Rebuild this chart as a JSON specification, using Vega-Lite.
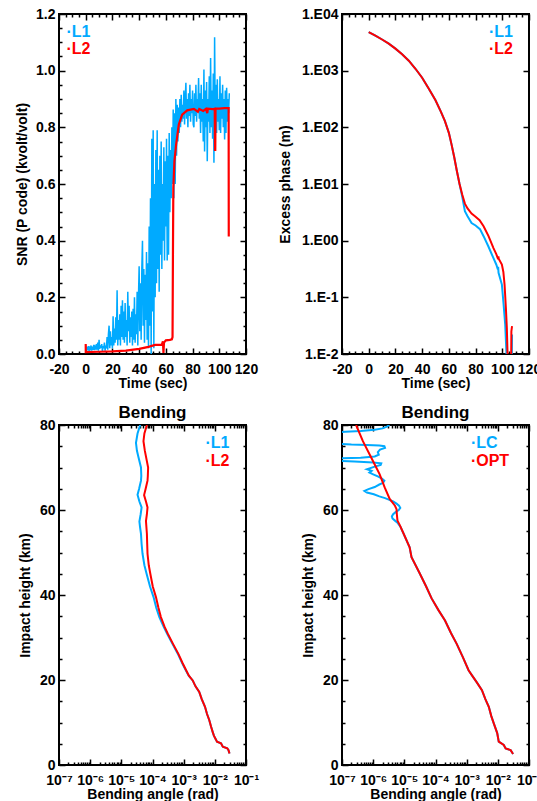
{
"$schema": "https://vega.github.io/schema/vega-lite/v6.json",
"autosize": {"type": "pad"},
"padding": {"left": 14, "top": 6, "right": 0, "bottom": 0},
"background": "white",
"datasets": {
"snr1": [
{"t":0,"v":0.03},{"t":0.5,"v":0.012},{"t":1,"v":0.025},{"t":1.5,"v":0.015},{"t":2,"v":0.028},{"t":2.5,"v":0.01},{"t":3,"v":0.022},{"t":3.5,"v":0.018},{"t":4,"v":0.03},{"t":4.5,"v":0.012},{"t":5,"v":0.026},{"t":5.5,"v":0.015},{"t":6,"v":0.032},{"t":6.5,"v":0.014},{"t":7,"v":0.025},{"t":7.5,"v":0.02},{"t":8,"v":0.035},{"t":8.5,"v":0.015},{"t":9,"v":0.04},{"t":9.5,"v":0.012},{"t":10,"v":0.05},{"t":10.5,"v":0.018},{"t":11,"v":0.03},{"t":11.5,"v":0.022},{"t":12,"v":0.035},{"t":12.5,"v":0.01},{"t":13,"v":0.028},{"t":13.5,"v":0.02},{"t":14,"v":0.04},{"t":14.5,"v":0.012},{"t":15,"v":0.03},
{"t":15.5,"v":0.02},{"t":16,"v":0.06},{"t":16.5,"v":0.015},{"t":17,"v":0.07},{"t":17.5,"v":0.1},{"t":18,"v":0.02},{"t":18.5,"v":0.08},{"t":19,"v":0.03},{"t":19.5,"v":0.06},{"t":20,"v":0.02},
{"t":20.5,"v":0.133},{"t":21,"v":0.03},{"t":21.5,"v":0.09},{"t":22,"v":0.04},{"t":22.5,"v":0.13},{"t":23,"v":0.05},{"t":23.5,"v":0.225},{"t":24,"v":0.03},{"t":24.5,"v":0.12},{"t":25,"v":0.05},
{"t":25.5,"v":0.14},{"t":26,"v":0.03},{"t":26.5,"v":0.17},{"t":27,"v":0.06},{"t":27.5,"v":0.19},{"t":28,"v":0.05},{"t":28.5,"v":0.15},{"t":29,"v":0.04},{"t":29.5,"v":0.18},{"t":30,"v":0.06},{"t":30.5,"v":0.12},{"t":31,"v":0.03},{"t":31.5,"v":0.22},{"t":32,"v":0.08},{"t":32.5,"v":0.17},{"t":33,"v":0.04},{"t":33.5,"v":0.13},{"t":34,"v":0.06},{"t":34.5,"v":0.15},{"t":35,"v":0.03},
{"t":35.5,"v":0.16},{"t":36,"v":0.05},{"t":36.5,"v":0.2},{"t":37,"v":0.04},{"t":37.5,"v":0.14},{"t":38,"v":0.07},{"t":38.5,"v":0.22},{"t":39,"v":0.03},{"t":39.5,"v":0.2},{"t":40,"v":0.31},
{"t":40.5,"v":0.08},{"t":41,"v":0.25},{"t":41.5,"v":0.05},{"t":42,"v":0.3},{"t":42.5,"v":0.4},{"t":43,"v":0.1},{"t":43.5,"v":0.3},{"t":44,"v":0.04},{"t":44.5,"v":0.28},{"t":45,"v":0.12},{"t":45.5,"v":0.36},{"t":46,"v":0.05},{"t":46.5,"v":0.32},{"t":47,"v":0.02},
{"t":47.5,"v":0.45},{"t":48,"v":0.1},{"t":48.5,"v":0.55},{"t":49,"v":0.0},{"t":49.5,"v":0.76},{"t":50,"v":0.15},{"t":50.5,"v":0.79},{"t":51,"v":0.02},{"t":51.5,"v":0.6},{"t":52,"v":0.2},
{"t":52.5,"v":0.72},{"t":53,"v":0.25},{"t":53.5,"v":0.79},{"t":54,"v":0.3},{"t":54.5,"v":0.65},{"t":55,"v":0.22},{"t":55.5,"v":0.7},{"t":56,"v":0.35},{"t":56.5,"v":0.75},{"t":57,"v":0.3},{"t":57.5,"v":0.6},{"t":58,"v":0.4},{"t":58.5,"v":0.73},{"t":59,"v":0.33},{"t":59.5,"v":0.68},{"t":60,"v":0.45},{"t":60.5,"v":0.76},{"t":61,"v":0.33},{"t":61.5,"v":0.7},{"t":62,"v":0.35},{"t":62.5,"v":0.78},{"t":63,"v":0.5},{"t":63.5,"v":0.72},{"t":64,"v":0.55},{"t":64.5,"v":0.8},{"t":65,"v":0.6},
{"t":65.5,"v":0.863},{"t":66,"v":0.55},{"t":66.5,"v":0.85},{"t":67,"v":0.6},{"t":67.5,"v":0.9},{"t":68,"v":0.7},{"t":68.5,"v":0.88},{"t":69,"v":0.75},{"t":69.5,"v":0.87},{"t":70,"v":0.78},
{"t":70.5,"v":0.9},{"t":71,"v":0.8},{"t":71.5,"v":0.915},{"t":72,"v":0.82},{"t":72.5,"v":0.88},{"t":73,"v":0.83},{"t":73.5,"v":0.93},{"t":74,"v":0.81},{"t":74.5,"v":0.9},{"t":75,"v":0.957},{"t":75.5,"v":0.83},{"t":76,"v":0.9},{"t":76.5,"v":0.8},{"t":77,"v":0.92},{"t":77.5,"v":0.84},{"t":78,"v":0.95},{"t":78.5,"v":0.82},{"t":79,"v":0.9},{"t":79.5,"v":0.85},{"t":80,"v":0.93},{"t":80.5,"v":0.81},{"t":81,"v":0.8},{"t":81.5,"v":0.92},{"t":82,"v":0.84},{"t":82.5,"v":0.95},{"t":83,"v":0.82},{"t":83.5,"v":0.9},{"t":84,"v":0.86},{"t":84.5,"v":0.974},{"t":85,"v":0.83},{"t":85.5,"v":0.92},{"t":86,"v":0.78},{"t":86.5,"v":0.95},{"t":87,"v":0.82},{"t":87.5,"v":0.9},{"t":88,"v":0.75},{"t":88.5,"v":1.004},{"t":89,"v":0.715},{"t":89.5,"v":0.93},{"t":90,"v":0.8},{"t":90.5,"v":0.96},{"t":91,"v":0.68},{"t":91.5,"v":0.9},{"t":92,"v":0.82},{"t":92.5,"v":0.98},{"t":93,"v":0.78},{"t":93.5,"v":1.045},{"t":94,"v":0.8},{"t":94.5,"v":0.93},{"t":95,"v":0.76},{"t":95.5,"v":0.99},{"t":96,"v":0.675},{"t":96.5,"v":1.118},{"t":97,"v":0.8},{"t":97.5,"v":0.95},{"t":98,"v":0.78},{"t":98.5,"v":0.97},{"t":99,"v":0.82},{"t":99.5,"v":0.9},{"t":100,"v":0.79},{"t":100.5,"v":0.98},{"t":101,"v":0.78},{"t":101.5,"v":0.92},{"t":102,"v":0.83},{"t":102.5,"v":0.95},{"t":103,"v":0.8},{"t":103.5,"v":0.9},{"t":104,"v":0.757},{"t":104.5,"v":0.93},{"t":105,"v":0.78},{"t":105.5,"v":0.94},{"t":106,"v":0.82},{"t":106.5,"v":0.9},{"t":107,"v":0.85},{"t":107.5,"v":0.92}
],
"snr2": [
{"t":0,"v":0.035},{"t":0.05,"v":0.007},{"t":10,"v":0.008},{"t":20,"v":0.009},{"t":30,"v":0.012},{"t":40,"v":0.018},{"t":47,"v":0.025},{"t":52,"v":0.032},{"t":57,"v":0.033},{"t":57.8,"v":0.045},{"t":58.2,"v":0.004},{"t":58.6,"v":0.04},{"t":60,"v":0.048},{"t":63,"v":0.05},{"t":64.5,"v":0.052},{"t":65,"v":0.06},{"t":65.3,"v":0.35},{"t":65.6,"v":0.586},{"t":66.4,"v":0.68},{"t":67.7,"v":0.74},{"t":69.7,"v":0.81},{"t":72.2,"v":0.845},{"t":76,"v":0.86},{"t":81,"v":0.865},{"t":84,"v":0.855},{"t":85,"v":0.865},{"t":88,"v":0.858},{"t":90,"v":0.865},{"t":91,"v":0.85},{"t":91.5,"v":0.866},{"t":95,"v":0.864},{"t":96.6,"v":0.866},{"t":96.8,"v":0.72},{"t":97,"v":0.72},{"t":97.2,"v":0.866},{"t":100,"v":0.866},{"t":104,"v":0.868},{"t":107,"v":0.868},{"t":107.1,"v":0.415}
],
"ph1": [
{"t":0,"v":4800},{"t":5,"v":4150},{"t":10,"v":3550},{"t":15,"v":3000},{"t":20,"v":2450},{"t":25,"v":1950},{"t":30,"v":1500},{"t":35,"v":1080},{"t":40,"v":750},{"t":45,"v":480},{"t":50,"v":300},{"t":54,"v":190},{"t":57,"v":130},{"t":60,"v":80},{"t":62,"v":50},{"t":64,"v":30},{"t":66,"v":17},{"t":68,"v":10},
{"t":70,"v":6.0},{"t":72,"v":3.3},{"t":74,"v":2.7},{"t":77,"v":2.05},{"t":80,"v":1.85},{"t":83.3,"v":1.6},{"t":86,"v":1.2},{"t":89.7,"v":0.78},{"t":93.4,"v":0.49},{"t":95.5,"v":0.38},{"t":96.7,"v":0.31},{"t":96.9,"v":0.345},{"t":97.2,"v":0.27},{"t":99.7,"v":0.168},{"t":101,"v":0.074},{"t":102.2,"v":0.033},{"t":103,"v":0.012},{"t":103.5,"v":0.006},{"t":107.1,"v":0.006},{"t":107.3,"v":0.022}
],
"ph2": [
{"t":0,"v":4800},{"t":5,"v":4150},{"t":10,"v":3550},{"t":15,"v":3000},{"t":20,"v":2450},{"t":25,"v":1950},{"t":30,"v":1500},{"t":35,"v":1080},{"t":40,"v":750},{"t":45,"v":480},{"t":50,"v":300},{"t":54,"v":190},{"t":57,"v":130},{"t":60,"v":80},{"t":62,"v":50},{"t":64,"v":30},{"t":66,"v":17},{"t":68,"v":10},
{"t":70,"v":6.5},{"t":72,"v":4.5},{"t":74,"v":3.7},{"t":77,"v":3.0},{"t":80,"v":2.65},{"t":83,"v":2.3},{"t":86,"v":1.8},{"t":89.7,"v":1.2},{"t":93.4,"v":0.74},{"t":95.5,"v":0.58},{"t":96.9,"v":0.47},{"t":97.1,"v":0.53},{"t":97.3,"v":0.48},{"t":99.7,"v":0.378},{"t":100.8,"v":0.28},{"t":101.7,"v":0.168},{"t":102.7,"v":0.065},{"t":103.4,"v":0.029},{"t":104.2,"v":0.006},{"t":106.6,"v":0.006},{"t":106.8,"v":0.025},{"t":107.3,"v":0.031}
],
"bL1": [
{"h":80,"a":4.03e-5},{"h":78,"a":3.31e-5},{"h":75.8,"a":2.95e-5},{"h":74,"a":3.16e-5},{"h":72.7,"a":3.47e-5},{"h":70,"a":4.27e-5},{"h":68,"a":4.37e-5},{"h":66.9,"a":4.27e-5},{"h":65,"a":3.72e-5},{"h":63.6,"a":3.31e-5},{"h":62,"a":3.8e-5},{"h":60.6,"a":4.47e-5},{"h":59,"a":4.17e-5},{"h":57.3,"a":3.8e-5},{"h":56,"a":3.98e-5},{"h":54.4,"a":4.27e-5},{"h":52,"a":4.47e-5},{"h":49.7,"a":4.79e-5},{"h":47,"a":5.5e-5},{"h":45,"a":6.46e-5},{"h":42,"a":8.32e-5},{"h":39.5,"a":1.08e-4},{"h":37,"a":1.32e-4},{"h":34.8,"a":1.66e-4},{"h":32.5,"a":2.29e-4},{"h":30.9,"a":2.95e-4},{"h":28.5,"a":4.37e-4},{"h":26.2,"a":6.46e-4},{"h":24,"a":8.91e-4},{"h":22.3,"a":1.17e-3},{"h":21,"a":1.45e-3},{"h":19.9,"a":1.95e-3},{"h":18.5,"a":2.4e-3},{"h":17.2,"a":3.16e-3},{"h":15.5,"a":3.8e-3},{"h":13.7,"a":4.84e-3},{"h":12,"a":5.62e-3},{"h":10.6,"a":6.61e-3},{"h":9,"a":7.59e-3},{"h":7.8,"a":8.51e-3},{"h":6.9,"a":9.33e-3},{"h":5.9,"a":1.1e-2},{"h":5.5,"a":1.17e-2},{"h":5.1,"a":1.58e-2},{"h":4.3,"a":1.8e-2},{"h":3.9,"a":2.51e-2},{"h":3.5,"a":2.75e-2},{"h":2.7,"a":2.95e-2}
],
"bL2": [
{"h":80,"a":6.61e-5},{"h":78,"a":5.5e-5},{"h":76.2,"a":5.13e-5},{"h":73.9,"a":5.69e-5},{"h":70,"a":7.24e-5},{"h":68,"a":7.08e-5},{"h":66.9,"a":6.92e-5},{"h":65,"a":6.03e-5},{"h":63.5,"a":5.37e-5},{"h":62,"a":6.17e-5},{"h":60.6,"a":6.92e-5},{"h":59,"a":6.61e-5},{"h":57.4,"a":6.17e-5},{"h":54.4,"a":6.61e-5},{"h":52,"a":6.76e-5},{"h":49.7,"a":6.92e-5},{"h":47,"a":7.59e-5},{"h":45,"a":8.51e-5},{"h":42,"a":1.02e-4},{"h":39.5,"a":1.29e-4},{"h":37,"a":1.55e-4},{"h":34.8,"a":1.86e-4},{"h":32.5,"a":2.45e-4},{"h":30.9,"a":3.09e-4},{"h":28.5,"a":4.55e-4},{"h":26.2,"a":6.7e-4},{"h":24,"a":9.2e-4},{"h":22.3,"a":1.2e-3},{"h":21,"a":1.47e-3},{"h":19.9,"a":1.95e-3},{"h":18.5,"a":2.4e-3},{"h":17.2,"a":3.16e-3},{"h":15.5,"a":3.8e-3},{"h":13.7,"a":4.84e-3},{"h":12,"a":5.62e-3},{"h":10.6,"a":6.61e-3},{"h":9,"a":7.59e-3},{"h":7.8,"a":8.51e-3},{"h":6.9,"a":9.33e-3},{"h":5.9,"a":1.1e-2},{"h":5.5,"a":1.17e-2},{"h":5.1,"a":1.58e-2},{"h":4.3,"a":1.8e-2},{"h":3.9,"a":2.51e-2},{"h":3.5,"a":2.75e-2},{"h":2.7,"a":2.95e-2}
],
"bLC": [
{"h":80,"a":3.31e-6},{"h":79.6,"a":2.75e-6},{"h":79.2,"a":2.0e-6},{"h":78.9,"a":1.12e-6},{"h":78.6,"a":3.98e-7},{"h":78.4,"a":1.26e-7},{"h":78.3,"a":5e-8},{"h":76,"a":5e-8},{"h":75.6,"a":7.9e-8},{"h":75.4,"a":2.0e-7},{"h":75.3,"a":6.31e-7},{"h":75.2,"a":1.58e-6},{"h":75.0,"a":2.29e-6},{"h":74.6,"a":2.4e-6},{"h":74.2,"a":1.66e-6},{"h":73.6,"a":1.41e-6},{"h":73.0,"a":1.51e-6},{"h":72.6,"a":1.12e-6},{"h":72.3,"a":3.98e-7},{"h":72.1,"a":5e-8},{"h":71.6,"a":5e-8},{"h":71.4,"a":2.51e-7},{"h":71.2,"a":1.0e-6},{"h":71.0,"a":1.82e-6},{"h":70.6,"a":1.74e-6},{"h":70.2,"a":1.12e-6},{"h":69.6,"a":6.31e-7},{"h":69.2,"a":8.91e-7},{"h":68.8,"a":7.59e-7},{"h":68.4,"a":1.0e-6},{"h":67.9,"a":1.41e-6},{"h":67.4,"a":1.91e-6},{"h":66.9,"a":2.29e-6},{"h":66.4,"a":2.09e-6},{"h":66.0,"a":1.58e-6},{"h":65.4,"a":1.12e-6},{"h":64.9,"a":7.08e-7},{"h":64.5,"a":5.25e-7},{"h":64.1,"a":6.31e-7},{"h":63.7,"a":1.05e-6},{"h":63.2,"a":1.58e-6},{"h":62.8,"a":2.4e-6},{"h":62.4,"a":3.31e-6},{"h":62.0,"a":4.37e-6},{"h":61.5,"a":5.62e-6},{"h":61.0,"a":6.76e-6},{"h":60.5,"a":7.41e-6},{"h":60.0,"a":6.61e-6},{"h":59.5,"a":5.25e-6},{"h":59.0,"a":4.37e-6},{"h":58.5,"a":3.98e-6},{"h":58.0,"a":4.17e-6},{"h":57.5,"a":5.01e-6},{"h":57.0,"a":6.03e-6},{"h":56.5,"a":6.76e-6},{"h":56.0,"a":7.59e-6},{"h":55.0,"a":8.71e-6},{"h":54.7,"a":9.12e-6},{"h":51.2,"a":1.48e-5},{"h":48.9,"a":1.7e-5},{"h":45,"a":3.16e-5},{"h":42,"a":5.01e-5},{"h":39.2,"a":7.5e-5},{"h":36.5,"a":1.23e-4},{"h":34,"a":2.02e-4},{"h":31,"a":3.16e-4},{"h":28.5,"a":4.79e-4},{"h":25.5,"a":7.41e-4},{"h":22.3,"a":1.15e-3},{"h":21.1,"a":1.48e-3},{"h":19.5,"a":2.09e-3},{"h":17.6,"a":3.09e-3},{"h":15.5,"a":3.98e-3},{"h":13.7,"a":5.13e-3},{"h":11.5,"a":6.17e-3},{"h":9.8,"a":7.41e-3},{"h":7.5,"a":9.55e-3},{"h":5.5,"a":1.07e-2},{"h":4.7,"a":1.55e-2},{"h":3.9,"a":1.78e-2},{"h":3.5,"a":2.57e-2},{"h":2.6,"a":3.09e-2}
],
"bOPT": [
{"h":80,"a":2.83e-7},{"h":76.2,"a":4.68e-7},{"h":72.3,"a":8.71e-7},{"h":68.4,"a":1.62e-6},{"h":65.3,"a":2.34e-6},{"h":62.6,"a":3.39e-6},{"h":61,"a":5.01e-6},{"h":60.2,"a":5.62e-6},{"h":59,"a":5.75e-6},{"h":57.5,"a":6.03e-6},{"h":56.5,"a":7.08e-6},{"h":54.7,"a":9.12e-6},{"h":51.2,"a":1.48e-5},{"h":48.9,"a":1.7e-5},{"h":45,"a":3.16e-5},{"h":42,"a":5.01e-5},{"h":39.2,"a":7.5e-5},{"h":36.5,"a":1.23e-4},{"h":34,"a":2.02e-4},{"h":31,"a":3.16e-4},{"h":28.5,"a":4.79e-4},{"h":25.5,"a":7.41e-4},{"h":22.3,"a":1.15e-3},{"h":21.1,"a":1.48e-3},{"h":19.5,"a":2.09e-3},{"h":17.6,"a":3.09e-3},{"h":15.5,"a":3.98e-3},{"h":13.7,"a":5.13e-3},{"h":11.5,"a":6.17e-3},{"h":9.8,"a":7.41e-3},{"h":7.5,"a":9.55e-3},{"h":5.5,"a":1.07e-2},{"h":4.7,"a":1.55e-2},{"h":3.9,"a":1.78e-2},{"h":3.5,"a":2.57e-2},{"h":2.6,"a":3.09e-2}
]
},
"columns": 2,
"spacing": {"row": 71, "column": 96},
"bounds": "flush",
"concat": [
{
"width": 187, "height": 340,
"resolve": {"axis": {"x": "independent", "y": "independent"}},
"layer": [
{"data": {"name": "snr1"}, "mark": {"type": "line", "color": "#00aaff", "strokeWidth": 1.5, "clip": true},
 "encoding": {
  "x": {"field": "t", "type": "quantitative", "scale": {"domain": [-20, 120], "nice": false, "zero": false},
        "axis": {"orient": "bottom", "values": [-20,0,20,40,60,80,100,120], "labelExpr": "replace(datum.label, '−', '-')", "labelPadding": 8, "grid": true, "gridDash": [6, 328, 6, 1000], "title": "Time (sec)", "titleX": 93.5, "titleY": 33.5, "titleBaseline": "alphabetic"}},
  "y": {"field": "v", "type": "quantitative", "scale": {"domain": [0, 1.2], "nice": false, "zero": false},
        "axis": {"orient": "left", "values": [0,0.2,0.4,0.6,0.8,1.0,1.2], "format": ".1f", "labelPadding": 4, "grid": true, "gridDash": [6, 175, 6, 1000], "title": "SNR (P code) (kvolt/volt)", "titleX": -33, "titleY": 170, "titleAngle": -90, "titleBaseline": "alphabetic"}}
 }},
{"data": {"name": "snr2"}, "mark": {"type": "line", "color": "#ff0000", "strokeWidth": 2.2, "clip": true},
 "encoding": {
  "x": {"field": "t", "type": "quantitative", "scale": {"domain": [-20, 120], "nice": false, "zero": false},
        "axis": {"orient": "bottom", "values": [-15,-10,-5,5,10,15,25,30,35,45,50,55,65,70,75,85,90,95,105,110,115], "labels": false, "grid": true, "gridDash": [3, 334, 3, 1000], "title": null}},
  "y": {"field": "v", "type": "quantitative", "scale": {"domain": [0, 1.2], "nice": false, "zero": false},
        "axis": {"orient": "left", "values": [0.05,0.1,0.15,0.25,0.3,0.35,0.45,0.5,0.55,0.65,0.7,0.75,0.85,0.9,0.95,1.05,1.1,1.15], "labels": false, "grid": true, "gridDash": [3, 181, 3, 1000], "title": null}}
 }},
{"data": {"values": [{}]}, "mark": {"type": "text", "text": "·L1", "color": "#00aaff", "font": "Liberation Sans", "fontSize": 16, "fontWeight": "bold", "align": "left", "baseline": "alphabetic"},
 "encoding": {
  "x": {"datum": -14.4, "type": "quantitative", "scale": {"domain": [-20, 120], "nice": false, "zero": false}, "axis": null},
  "y": {"datum": 1.118, "type": "quantitative", "scale": {"domain": [0, 1.2], "nice": false, "zero": false}, "axis": null}
 }},
{"data": {"values": [{}]}, "mark": {"type": "text", "text": "·L2", "color": "#ff0000", "font": "Liberation Sans", "fontSize": 16, "fontWeight": "bold", "align": "left", "baseline": "alphabetic"},
 "encoding": {
  "x": {"datum": -14.4, "type": "quantitative", "scale": {"domain": [-20, 120], "nice": false, "zero": false}, "axis": null},
  "y": {"datum": 1.059, "type": "quantitative", "scale": {"domain": [0, 1.2], "nice": false, "zero": false}, "axis": null}
 }}
]
},
{
"width": 187, "height": 340,
"resolve": {"axis": {"x": "independent", "y": "independent"}},
"layer": [
{"data": {"name": "ph1"}, "mark": {"type": "line", "color": "#00aaff", "strokeWidth": 2, "clip": true},
 "encoding": {
  "x": {"field": "t", "type": "quantitative", "scale": {"domain": [-20, 120], "nice": false, "zero": false},
        "axis": {"orient": "bottom", "values": [-20,0,20,40,60,80,100,120], "labelExpr": "replace(datum.label, '−', '-')", "labelPadding": 8, "grid": true, "gridDash": [6, 328, 6, 1000], "title": "Time (sec)", "titleX": 93.5, "titleY": 33.5, "titleBaseline": "alphabetic"}},
  "y": {"field": "v", "type": "quantitative", "scale": {"type": "log", "domain": [0.01, 10000], "nice": false},
        "axis": {"orient": "left", "values": [0.01,0.1,1,10,100,1000,10000], "labelExpr": "datum.value >= 1 ? '1.E0' + format(log(datum.value)/LN10, '.0f') : '1.E-' + format(-log(datum.value)/LN10, '.0f')", "labelPadding": 4, "grid": true, "gridDash": [6, 175, 6, 1000], "title": "Excess phase (m)", "titleX": -53, "titleY": 170, "titleAngle": -90, "titleBaseline": "alphabetic"}}
 }},
{"data": {"name": "ph2"}, "mark": {"type": "line", "color": "#ff0000", "strokeWidth": 2, "clip": true},
 "encoding": {
  "x": {"field": "t", "type": "quantitative", "scale": {"domain": [-20, 120], "nice": false, "zero": false},
        "axis": {"orient": "bottom", "values": [-15,-10,-5,5,10,15,25,30,35,45,50,55,65,70,75,85,90,95,105,110,115], "labels": false, "grid": true, "gridDash": [3, 334, 3, 1000], "title": null}},
  "y": {"field": "v", "type": "quantitative", "scale": {"type": "log", "domain": [0.01, 10000], "nice": false}, "axis": null}
 }},
{"data": {"values": [{}]}, "mark": {"type": "text", "text": "·L1", "color": "#00aaff", "font": "Liberation Sans", "fontSize": 16, "fontWeight": "bold", "align": "left", "baseline": "alphabetic"},
 "encoding": {
  "x": {"datum": 90, "type": "quantitative", "scale": {"domain": [-20, 120], "nice": false, "zero": false}, "axis": null},
  "y": {"datum": 3880, "type": "quantitative", "scale": {"type": "log", "domain": [0.01, 10000], "nice": false}, "axis": null}
 }},
{"data": {"values": [{}]}, "mark": {"type": "text", "text": "·L2", "color": "#ff0000", "font": "Liberation Sans", "fontSize": 16, "fontWeight": "bold", "align": "left", "baseline": "alphabetic"},
 "encoding": {
  "x": {"datum": 90, "type": "quantitative", "scale": {"domain": [-20, 120], "nice": false, "zero": false}, "axis": null},
  "y": {"datum": 1968, "type": "quantitative", "scale": {"type": "log", "domain": [0.01, 10000], "nice": false}, "axis": null}
 }}
]
},
{
"width": 187, "height": 340,
"resolve": {"axis": {"x": "independent", "y": "independent"}},
"layer": [
{"data": {"name": "bL1"}, "mark": {"type": "line", "color": "#00aaff", "strokeWidth": 2, "clip": true},
 "encoding": {
  "x": {"field": "a", "type": "quantitative", "scale": {"type": "log", "domain": [1e-7, 0.1], "nice": false},
        "axis": {"orient": "bottom", "values": [1e-7,1e-6,1e-5,1e-4,1e-3,1e-2,1e-1], "labelExpr": "'10' + ['⁰','⁻¹','⁻²','⁻³','⁻⁴','⁻⁵','⁻⁶','⁻⁷'][round(-log(datum.value)/LN10)]", "labelPadding": 8, "grid": true, "gridDash": [6, 328, 6, 1000], "title": "Bending angle (rad)", "titleX": 93.5, "titleY": 33.5, "titleBaseline": "alphabetic"}},
  "y": {"field": "h", "type": "quantitative", "scale": {"domain": [0, 80], "nice": false, "zero": false},
        "axis": {"orient": "left", "values": [0,20,40,60,80], "labelPadding": 4, "grid": true, "gridDash": [6, 175, 6, 1000], "title": "Impact height (km)", "titleX": -30, "titleY": 170, "titleAngle": -90, "titleBaseline": "alphabetic"}},
  "order": {"field": "h", "sort": "descending"}
 }},
{"data": {"name": "bL2"}, "mark": {"type": "line", "color": "#ff0000", "strokeWidth": 2, "clip": true},
 "encoding": {
  "x": {"field": "a", "type": "quantitative", "scale": {"type": "log", "domain": [1e-7, 0.1], "nice": false},
        "axis": {"orient": "bottom", "values": [2e-7,3e-7,4e-7,5e-7,6e-7,7e-7,8e-7,9e-7,2e-6,3e-6,4e-6,5e-6,6e-6,7e-6,8e-6,9e-6,2e-5,3e-5,4e-5,5e-5,6e-5,7e-5,8e-5,9e-5,2e-4,3e-4,4e-4,5e-4,6e-4,7e-4,8e-4,9e-4,2e-3,3e-3,4e-3,5e-3,6e-3,7e-3,8e-3,9e-3,2e-2,3e-2,4e-2,5e-2,6e-2,7e-2,8e-2,9e-2], "labels": false, "grid": true, "gridDash": [3, 334, 3, 1000], "title": null}},
  "y": {"field": "h", "type": "quantitative", "scale": {"domain": [0, 80], "nice": false, "zero": false},
        "axis": {"orient": "left", "values": [5,10,15,25,30,35,45,50,55,65,70,75], "labels": false, "grid": true, "gridDash": [3, 181, 3, 1000], "title": null}},
  "order": {"field": "h", "sort": "descending"}
 }},
{"data": {"values": [{}]}, "mark": {"type": "text", "text": "·L1", "color": "#00aaff", "font": "Liberation Sans", "fontSize": 16, "fontWeight": "bold", "align": "left", "baseline": "alphabetic"},
 "encoding": {
  "x": {"datum": 5.02e-3, "type": "quantitative", "scale": {"type": "log", "domain": [1e-7, 0.1], "nice": false}, "axis": null},
  "y": {"datum": 74.7, "type": "quantitative", "scale": {"domain": [0, 80], "nice": false, "zero": false}, "axis": null}
 }},
{"data": {"values": [{}]}, "mark": {"type": "text", "text": "·L2", "color": "#ff0000", "font": "Liberation Sans", "fontSize": 16, "fontWeight": "bold", "align": "left", "baseline": "alphabetic"},
 "encoding": {
  "x": {"datum": 5.02e-3, "type": "quantitative", "scale": {"type": "log", "domain": [1e-7, 0.1], "nice": false}, "axis": null},
  "y": {"datum": 70.4, "type": "quantitative", "scale": {"domain": [0, 80], "nice": false, "zero": false}, "axis": null}
 }},
{"data": {"values": [{}]}, "mark": {"type": "text", "text": "Bending", "color": "black", "font": "Liberation Sans", "fontSize": 17, "fontWeight": "bold", "align": "center", "baseline": "alphabetic"},
 "encoding": {
  "x": {"datum": 1e-4, "type": "quantitative", "scale": {"type": "log", "domain": [1e-7, 0.1], "nice": false}, "axis": null},
  "y": {"datum": 81.65, "type": "quantitative", "scale": {"domain": [0, 80], "nice": false, "zero": false}, "axis": null}
 }}
]
},
{
"width": 187, "height": 340,
"resolve": {"axis": {"x": "independent", "y": "independent"}},
"layer": [
{"data": {"name": "bLC"}, "mark": {"type": "line", "color": "#00aaff", "strokeWidth": 2, "clip": true},
 "encoding": {
  "x": {"field": "a", "type": "quantitative", "scale": {"type": "log", "domain": [1e-7, 0.1], "nice": false},
        "axis": {"orient": "bottom", "values": [1e-7,1e-6,1e-5,1e-4,1e-3,1e-2,1e-1], "labelExpr": "'10' + ['⁰','⁻¹','⁻²','⁻³','⁻⁴','⁻⁵','⁻⁶','⁻⁷'][round(-log(datum.value)/LN10)]", "labelPadding": 8, "grid": true, "gridDash": [6, 328, 6, 1000], "title": "Bending angle (rad)", "titleX": 93.5, "titleY": 33.5, "titleBaseline": "alphabetic"}},
  "y": {"field": "h", "type": "quantitative", "scale": {"domain": [0, 80], "nice": false, "zero": false},
        "axis": {"orient": "left", "values": [0,20,40,60,80], "labelPadding": 4, "grid": true, "gridDash": [6, 175, 6, 1000], "title": "Impact height (km)", "titleX": -30, "titleY": 170, "titleAngle": -90, "titleBaseline": "alphabetic"}},
  "order": {"field": "h", "sort": "descending"}
 }},
{"data": {"name": "bOPT"}, "mark": {"type": "line", "color": "#ff0000", "strokeWidth": 2, "clip": true},
 "encoding": {
  "x": {"field": "a", "type": "quantitative", "scale": {"type": "log", "domain": [1e-7, 0.1], "nice": false},
        "axis": {"orient": "bottom", "values": [2e-7,3e-7,4e-7,5e-7,6e-7,7e-7,8e-7,9e-7,2e-6,3e-6,4e-6,5e-6,6e-6,7e-6,8e-6,9e-6,2e-5,3e-5,4e-5,5e-5,6e-5,7e-5,8e-5,9e-5,2e-4,3e-4,4e-4,5e-4,6e-4,7e-4,8e-4,9e-4,2e-3,3e-3,4e-3,5e-3,6e-3,7e-3,8e-3,9e-3,2e-2,3e-2,4e-2,5e-2,6e-2,7e-2,8e-2,9e-2], "labels": false, "grid": true, "gridDash": [3, 334, 3, 1000], "title": null}},
  "y": {"field": "h", "type": "quantitative", "scale": {"domain": [0, 80], "nice": false, "zero": false},
        "axis": {"orient": "left", "values": [5,10,15,25,30,35,45,50,55,65,70,75], "labels": false, "grid": true, "gridDash": [3, 181, 3, 1000], "title": null}},
  "order": {"field": "h", "sort": "descending"}
 }},
{"data": {"values": [{}]}, "mark": {"type": "text", "text": "·LC", "color": "#00aaff", "font": "Liberation Sans", "fontSize": 16, "fontWeight": "bold", "align": "left", "baseline": "alphabetic"},
 "encoding": {
  "x": {"datum": 1.37e-3, "type": "quantitative", "scale": {"type": "log", "domain": [1e-7, 0.1], "nice": false}, "axis": null},
  "y": {"datum": 74.7, "type": "quantitative", "scale": {"domain": [0, 80], "nice": false, "zero": false}, "axis": null}
 }},
{"data": {"values": [{}]}, "mark": {"type": "text", "text": "·OPT", "color": "#ff0000", "font": "Liberation Sans", "fontSize": 16, "fontWeight": "bold", "align": "left", "baseline": "alphabetic"},
 "encoding": {
  "x": {"datum": 1.37e-3, "type": "quantitative", "scale": {"type": "log", "domain": [1e-7, 0.1], "nice": false}, "axis": null},
  "y": {"datum": 70.4, "type": "quantitative", "scale": {"domain": [0, 80], "nice": false, "zero": false}, "axis": null}
 }},
{"data": {"values": [{}]}, "mark": {"type": "text", "text": "Bending", "color": "black", "font": "Liberation Sans", "fontSize": 17, "fontWeight": "bold", "align": "center", "baseline": "alphabetic"},
 "encoding": {
  "x": {"datum": 1e-4, "type": "quantitative", "scale": {"type": "log", "domain": [1e-7, 0.1], "nice": false}, "axis": null},
  "y": {"datum": 81.65, "type": "quantitative", "scale": {"domain": [0, 80], "nice": false, "zero": false}, "axis": null}
 }}
]
}
],
"config": {
 "view": {"stroke": "black", "strokeWidth": 2},
 "axis": {"domain": false, "ticks": false, "labelFont": "Liberation Sans", "labelFontSize": 14, "labelFontWeight": "bold", "labelColor": "black", "titleFont": "Liberation Sans", "titleFontSize": 14, "titleFontWeight": "bold", "titleColor": "black", "gridColor": "black", "gridOpacity": 1, "gridWidth": 1.5, "labelFlush": false, "labelOverlap": false}
}
}
